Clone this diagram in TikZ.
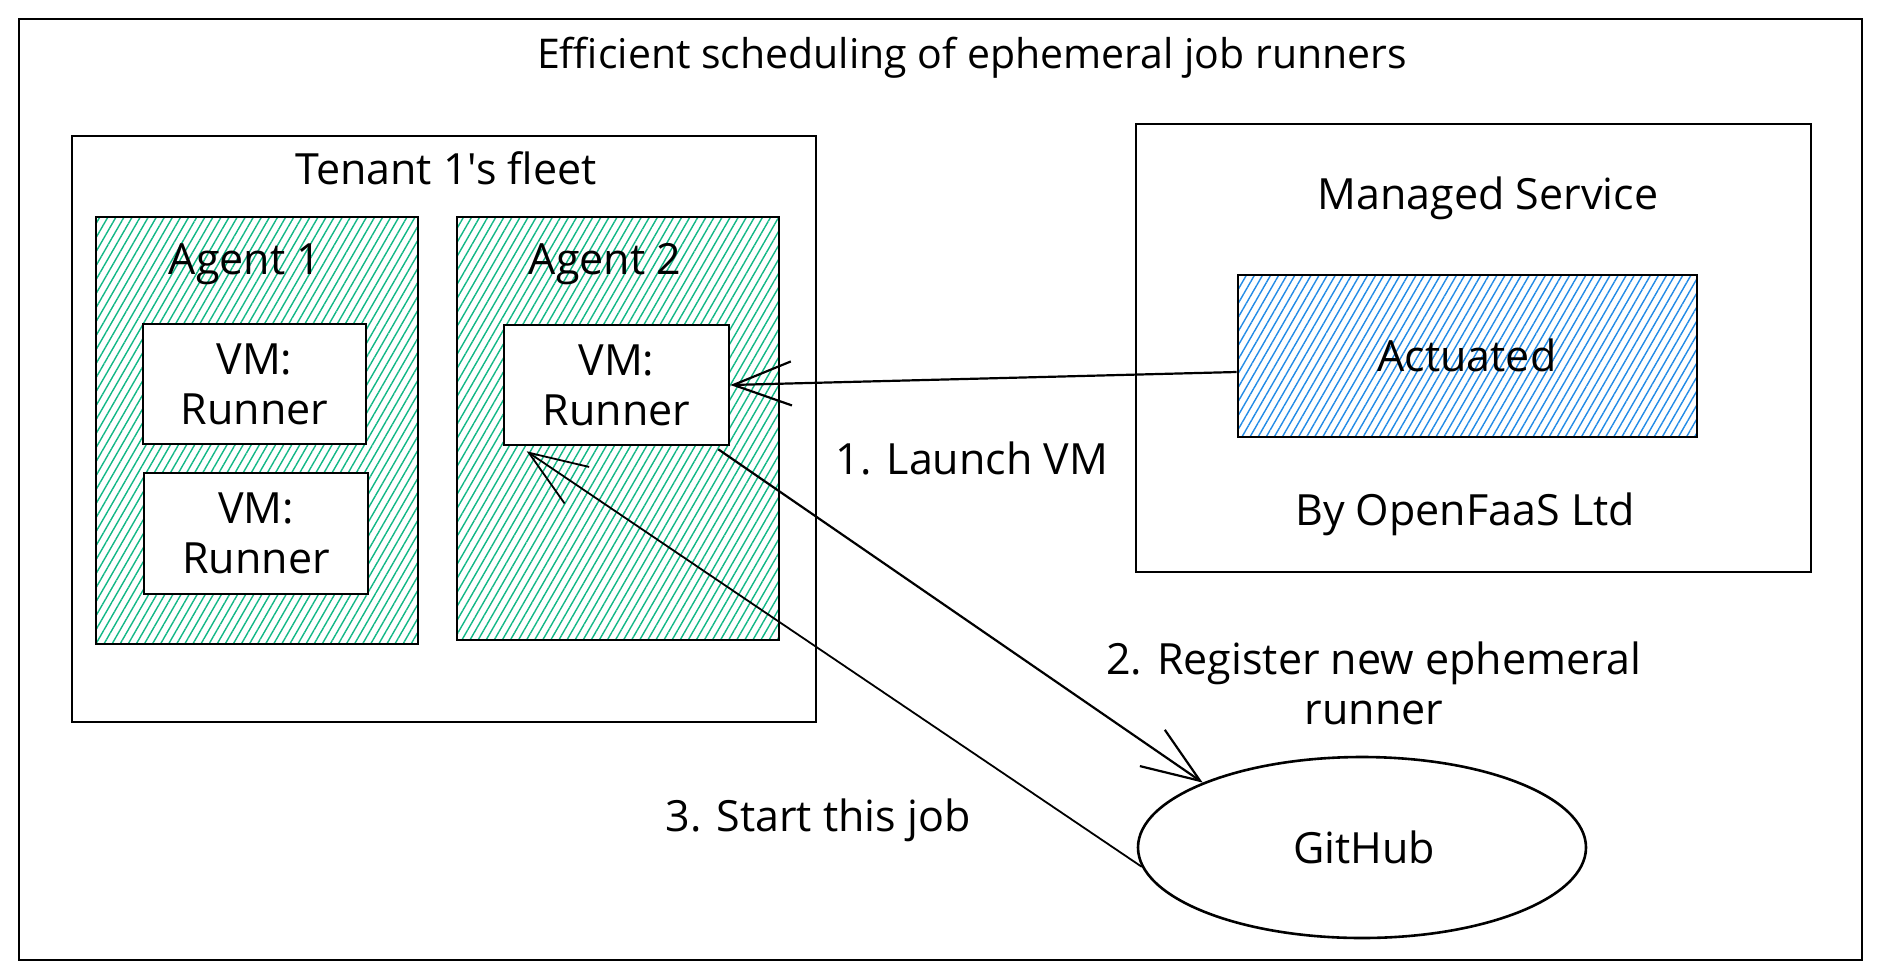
\documentclass[tikz,border=0pt]{standalone}
\usepackage{fontspec}
\setmainfont{Open Sans}[Ligatures=TeXOff]
\usetikzlibrary{arrows.meta,patterns.meta,shapes.geometric,calc}
\definecolor{hgreen}{HTML}{12B886}
\definecolor{hblue}{HTML}{228BE6}
\begin{document}
\begin{tikzpicture}[x=1pt,y=-1pt,
  box/.style={draw=black, line width=2.6pt, rectangle, inner sep=0pt},
  lbl/.style={font=\fontsize{43}{50}\selectfont, inner sep=0pt, align=center},
  greenhatch/.style={pattern={Lines[angle=60,distance=7pt,line width=1.4pt]}, pattern color=hgreen},
  bluehatch/.style={pattern={Lines[angle=60,distance=7pt,line width=1.4pt]}, pattern color=hblue},
  conn/.style={draw=black, line width=2.2pt, -{Straight Barb[length=58pt,width=44pt]}}
]
\useasboundingbox (0,0) rectangle (1882,978);
\fill[white] (0,0) rectangle (1882,978);

% frames
\node[box, line width=2pt, minimum width=1843pt, minimum height=941pt] (frame) at (940.5,489.5) {};
\node[box, minimum width=744pt, minimum height=586pt] (tenant) at (444,429) {};
\node[box, greenhatch, minimum width=322pt, minimum height=427pt] (agent1) at (257,430.5) {};
\node[box, greenhatch, minimum width=322pt, minimum height=423pt] (agent2) at (618,428.5) {};
\node[box, fill=white, lbl, minimum width=223pt, minimum height=120pt] (vm1) at (254.5,384) {VM:\\Runner};
\node[box, fill=white, lbl, minimum width=224pt, minimum height=121pt] (vm2) at (256,533.5) {VM:\\Runner};
\node[box, fill=white, lbl, minimum width=225pt, minimum height=120pt] (vm3) at (616.5,385) {VM:\\Runner};
\node[box, minimum width=675pt, minimum height=448pt] (managed) at (1473.5,348) {};
\node[box, bluehatch, minimum width=459pt, minimum height=162pt] (actuated) at (1467.5,356) {};
\node[draw=black, line width=2.6pt, ellipse, inner sep=0pt, fill=white, minimum width=448pt, minimum height=181pt] (github) at (1362,847.5) {};

% labels
\node[lbl, font=\fontsize{41}{50}\selectfont] (title) at (972,58) {Efficient scheduling of ephemeral job runners};
\node[lbl] (tenantlbl) at (446,168) {Tenant 1's fleet};
\node[lbl] (agent1lbl) at (245,264) {Agent 1};
\node[lbl] (agent2lbl) at (605,264) {Agent 2};
\node[lbl] (managedlbl) at (1488,198) {Managed Service};
\node[lbl] (actuatedlbl) at (1467,355) {Actuated};
\node[lbl] (bylbl) at (1465,514) {By OpenFaaS Ltd};
\node[lbl] (githublbl) at (1364,847) {GitHub};
\node[lbl] (launch) at (972,458) {1. Launch VM};
\node[lbl] (register) at (1374,683) {2. Register new ephemeral\\runner};
\node[lbl] (startjob) at (818,820) {3. Start this job};

% connectors
\draw[conn] ($(actuated.west)+(0,16)$) -- (vm3.east);
\draw[conn] ($(vm3.south east)+(-12,3)$) -- (github.north west);
\draw[conn, line width=1.8pt] (github.185) -- ($(vm3.south west)+(24,5)$);
\end{tikzpicture}
\end{document}
